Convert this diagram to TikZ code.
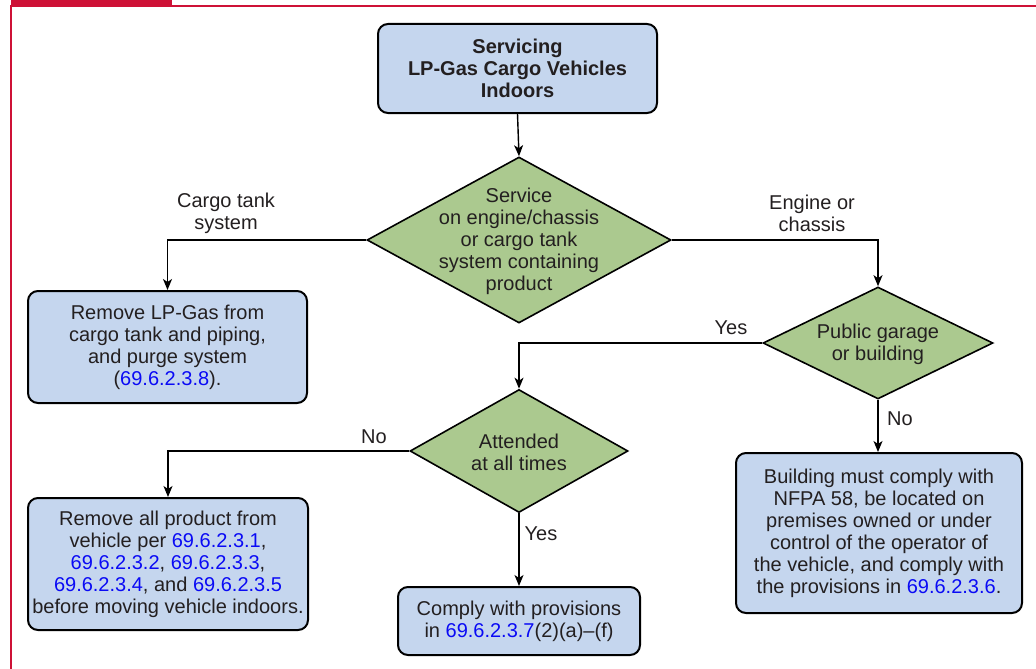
\documentclass[tikz,border=0pt]{standalone}
\usepackage{fontspec}
\setmainfont{Liberation Sans}
\usetikzlibrary{shapes.geometric,arrows.meta}
\definecolor{boxblue}{RGB}{197,214,238}
\definecolor{dgreen}{RGB}{171,201,143}
\definecolor{framered}{RGB}{206,17,54}
\definecolor{txt}{RGB}{35,31,32}
\definecolor{lnk}{RGB}{10,10,245}
\newcommand{\lk}[1]{\textcolor{lnk}{#1}}
\begin{document}
\begin{tikzpicture}[x=1pt,y=-1pt,
  font=\fontsize{20}{22}\selectfont, text=txt,
  box/.style={draw=black, line width=2pt, fill=boxblue, rounded corners=10pt, align=center, inner sep=0pt},
  dia/.style={draw=black, line width=1.6pt, fill=dgreen, diamond, inner sep=0pt},
  txtnode/.style={align=center, inner sep=0pt},
  conn/.style={line width=1.4pt, draw=black},
  arr/.style={conn, -{Stealth[length=11pt,width=9pt,inset=3pt]}},
  ]
\useasboundingbox (0,0) rectangle (1036,669);
% frame
\fill[framered] (11,0) rectangle (171.5,7);
\draw[framered, line width=1.8pt] (11,669) -- (11,6.3) -- (1036,6.3);

% nodes
\node[box, minimum width=279pt, minimum height=89pt, font=\fontsize{20}{22}\selectfont\bfseries] (top) at (517.5,68.5) {Servicing\\LP-Gas Cargo Vehicles\\Indoors};

\node[dia, minimum width=304pt, minimum height=166pt] (d1) at (519,240) {};
\node[txtnode] (d1t) at ([yshift=-1pt]d1.center) {Service\\on engine/chassis\\or cargo tank\\system containing\\product};

\node[dia, minimum width=230pt, minimum height=112pt] (d2) at (878,343) {};
\node[txtnode] (d2t) at ([yshift=-1.5pt]d2.center) {Public garage\\or building};

\node[dia, minimum width=218pt, minimum height=123pt] (d3) at (519,451) {};
\node[txtnode] (d3t) at ([yshift=-1pt]d3.center) {Attended\\at all times};

\node[box, minimum width=279pt, minimum height=112pt] (b1) at (167.5,347) {Remove LP-Gas from\\cargo tank and piping,\\and purge system\\(\lk{69.6.2.3.8}).};

\node[box, minimum width=280pt, minimum height=132pt] (b2) at (168,564) {Remove all product from\\vehicle per \lk{69.6.2.3.1},\\\lk{69.6.2.3.2}, \lk{69.6.2.3.3},\\\lk{69.6.2.3.4}, and \lk{69.6.2.3.5}\\before moving vehicle indoors.};

\node[box, minimum width=242pt, minimum height=68pt] (b3) at (519,621) {Comply with provisions\\in \lk{69.6.2.3.7}(2)(a)–(f)};

\node[box, minimum width=286pt, minimum height=160pt] (b4) at (879,533) {Building must comply with\\NFPA 58, be located on\\premises owned or under\\control of the operator of\\the vehicle, and comply with\\the provisions in \lk{69.6.2.3.6}.};

% connectors
\draw[arr] (top.south) -- (d1.north);
\draw[arr] (d1.west) -| (b1.north);
\draw[arr] (d1.east) -| (d2.north);
\draw[arr] (d2.west) -| (d3.north);
\draw[arr] (d2.south) -- (d2.south |- b4.north);
\draw[arr] (d3.west) -| (b2.north);
\draw[arr] (d3.south) -- (d3.south |- b3.north);

% labels
\node[txtnode] (l1) at (226,213) {Cargo tank\\system};
\node[txtnode] (l2) at (812,213) {Engine or\\chassis};
\node[txtnode] (l3) at (731,328) {Yes};
\node[txtnode] (l4) at (900,419) {No};
\node[txtnode] (l5) at (374,437) {No};
\node[txtnode] (l6) at (541,534) {Yes};
\end{tikzpicture}
\end{document}
